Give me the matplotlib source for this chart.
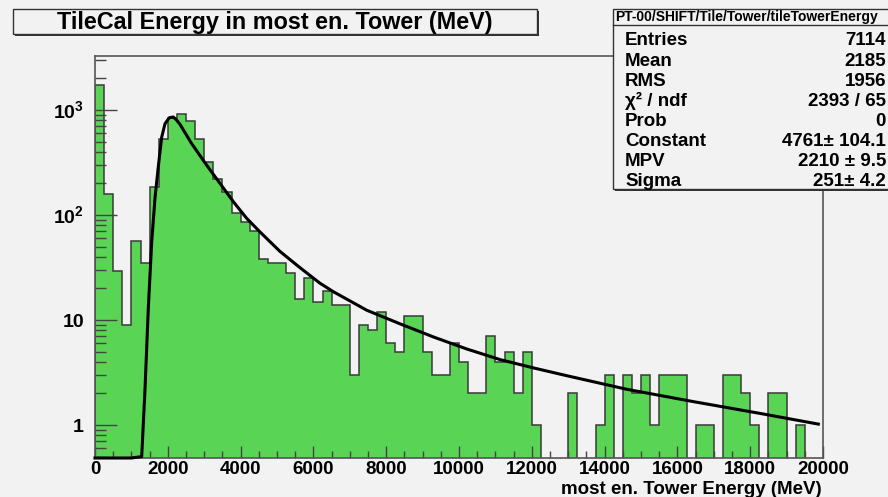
# TileCal energy in most energetic tower - ROOT style histogram with Landau fit
import numpy as np
import matplotlib
matplotlib.use("Agg")
import matplotlib.pyplot as plt
from matplotlib.patches import Rectangle
from matplotlib.ticker import MultipleLocator, LogLocator, FixedLocator, FixedFormatter, NullFormatter

plt.rcParams['font.family'] = ['Liberation Sans', 'DejaVu Sans']
plt.rcParams['font.weight'] = 'bold'
plt.rcParams['mathtext.fontset'] = 'custom'
plt.rcParams['mathtext.rm'] = 'Liberation Sans:bold'
plt.rcParams['mathtext.bf'] = 'Liberation Sans:bold'

# histogram: 80 bins of 250 MeV from 0 to 20000
bin_width = 250
counts = [1730, 158, 29, 9, 56, 35, 186, 526, 834, 916,
          791, 526, 322, 219, 167, 105, 86, 71, 38, 35,
          35, 28, 16, 25, 15, 19, 14, 14, 3, 9,
          8, 12, 6, 5, 11, 11, 5, 3, 3, 6,
          4, 2, 2, 7, 4, 5, 2, 5, 1, 0,
          0, 0, 2, 0, 0, 1, 3, 0, 3, 2,
          3, 1, 3, 3, 3, 0, 1, 1, 0, 3,
          3, 2, 1, 0, 2, 2, 0, 1, 0, 0]

# Landau fit curve (0 = below the axis range)
fit_energy = [0, 1000, 1283, 1374, 1465, 1557, 1648, 1740, 1832, 1923, 2041, 2151,
              2244, 2335, 2650, 3068, 3434, 3800, 4167, 4533, 5082, 5632, 6181,
              6548, 7464, 8379, 9295, 10211, 11126, 12042, 12958, 14606, 16438,
              18269, 19872]
fit_value = [0, 0, 0.5, 2.2, 13, 55, 145, 290, 550, 740, 845, 858,
             800, 730, 482, 298, 200, 134, 93, 69, 45, 31.5, 22.4,
             18.6, 12.4, 9.2, 6.9, 5.3, 4.2, 3.5, 2.95, 2.19, 1.67,
             1.29, 1.02]

stat_labels = ['Entries', 'Mean', 'RMS', 'χ² / ndf', 'Prob', 'Constant', 'MPV', 'Sigma']
stat_values = ['7114', '2185', '1956', '2393 / 65', '0', '4761± 104.1', '2210 ± 9.5', '251± 4.2']

x_ticks = list(range(0, 20001, 2000))
y_ticks = [1, 10, 100, 1000]
y_ticklabels = ['1', '10', r'$10^{2}$', r'$10^{3}$']

bg = '#f2f2f2'
green = '#59d454'
W, H = 888, 497
y_lo, y_hi = 0.485, 3270


def fx(px):
    return px / W


def fy(py):
    return 1 - py / H


fig = plt.figure(figsize=(W / 100, H / 100), dpi=100, facecolor=bg)
ax = fig.add_axes([fx(95), fy(458), fx(823) - fx(95), fy(56) - fy(458)])
ax.set_facecolor(bg)

edges = np.arange(len(counts) + 1) * bin_width
ax.stairs(counts, edges, fill=True, baseline=1e-3, facecolor=green,
          edgecolor='#3a3a3a', linewidth=1.1)

fit_y = np.clip(np.array(fit_value, dtype=float), y_lo, None)
ax.plot(fit_energy, fit_y, color='black', linewidth=2.2, solid_joinstyle='round',
        clip_on=False, zorder=5)

ax.set_yscale('log')
ax.set_xlim(0, 20000)
ax.set_ylim(y_lo, y_hi)

ax.xaxis.set_major_locator(FixedLocator(x_ticks))
ax.xaxis.set_minor_locator(MultipleLocator(500))
ax.yaxis.set_major_locator(FixedLocator(y_ticks))
ax.yaxis.set_major_formatter(FixedFormatter(y_ticklabels))
ax.yaxis.set_minor_locator(LogLocator(base=10, subs=np.arange(2, 10)))
ax.yaxis.set_minor_formatter(NullFormatter())

ax.tick_params(axis='x', which='major', direction='in', length=9, width=1,
               color='#444444', labelsize=13.5, pad=2)
ax.tick_params(axis='x', which='minor', direction='in', length=5, width=1, color='#444444')
ax.tick_params(axis='y', which='major', direction='in', length=16, width=1,
               color='#444444', labelsize=14, pad=8)
ax.tick_params(axis='y', which='minor', direction='in', length=8, width=1, color='#444444')
for lab in ax.get_xticklabels() + ax.get_yticklabels():
    lab.set_fontweight('bold')

for sp in ax.spines.values():
    sp.set_color('#555555')
    sp.set_linewidth(1.2)

fig.text(fx(822), fy(493.5), 'most en. Tower Energy (MeV)', ha='right', va='baseline',
         fontsize=13.5, fontweight='bold')

# title box with shadow
fig.patches.append(Rectangle((fx(15), fy(36)), fx(537) - fx(15) + 2 / W, fy(11) - fy(36),
                             transform=fig.transFigure, facecolor='#333333',
                             edgecolor='none', zorder=2))
fig.patches.append(Rectangle((fx(13), fy(34)), fx(537) - fx(13), fy(9) - fy(34),
                             transform=fig.transFigure, facecolor=bg,
                             edgecolor='#333333', linewidth=1, zorder=3))
fig.text(fx(275), fy(28.5), 'TileCal Energy in most en. Tower (MeV)', ha='center',
         va='baseline', fontsize=16.8, fontweight='bold', zorder=4)

# stats box with shadow
fig.patches.append(Rectangle((fx(615), fy(191)), fx(900) - fx(615), fy(11) - fy(191),
                             transform=fig.transFigure, facecolor='#333333',
                             edgecolor='none', zorder=2))
fig.patches.append(Rectangle((fx(613), fy(189)), fx(900) - fx(613), fy(9) - fy(189),
                             transform=fig.transFigure, facecolor=bg,
                             edgecolor='#333333', linewidth=1, zorder=3))
fig.add_artist(plt.Line2D([fx(613), 1], [fy(25), fy(25)], transform=fig.transFigure,
                          color='#333333', linewidth=1, zorder=4))
fig.text(fx(615), fy(21.5), 'PT-00/SHIFT/Tile/Tower/tileTowerEnergy', ha='left',
         va='baseline', fontsize=10, fontweight='bold', zorder=4)
row_y = [38, 58.5, 79, 99, 119, 139, 159.5, 179]
for lab, val, ry in zip(stat_labels, stat_values, row_y):
    fig.text(fx(625), fy(ry + 7), lab, ha='left', va='baseline', fontsize=13.5,
             fontweight='bold', zorder=4)
    fig.text(fx(886), fy(ry + 7), val, ha='right', va='baseline', fontsize=13.5,
             fontweight='bold', zorder=4)

fig.savefig('out.png', dpi=100, facecolor=bg)
